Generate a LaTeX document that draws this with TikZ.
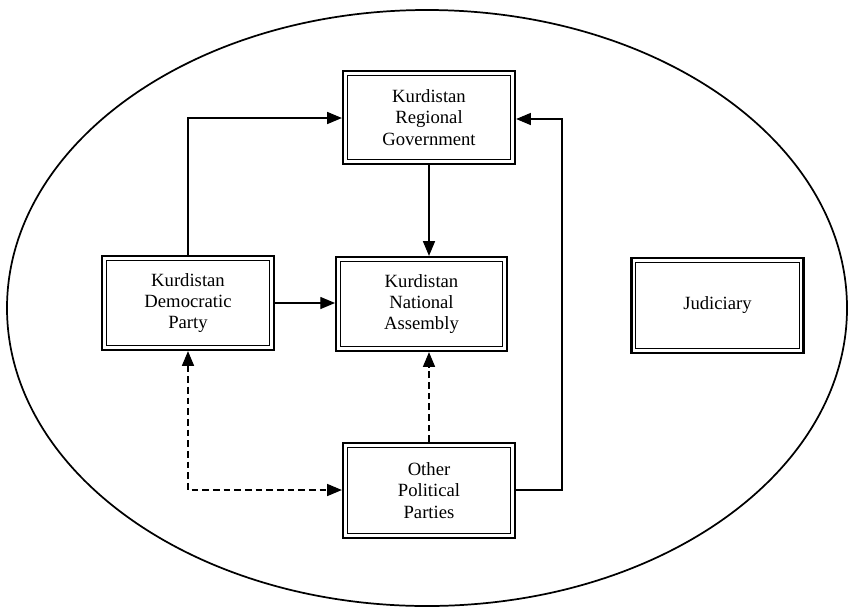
\documentclass[tikz,border=0pt]{standalone}
\usepackage{fontspec}
\setmainfont{Liberation Serif}
\usetikzlibrary{arrows.meta}
\begin{document}
\begin{tikzpicture}[x=0.75pt,y=-0.75pt,
  dbox/.style={draw, line width=1.7pt, inner sep=0pt, align=center,
    font=\fontsize{14}{16}\selectfont,
    path picture={\draw[line width=0.75pt]
      ([shift={(3.2pt,3.2pt)}]path picture bounding box.south west) rectangle
      ([shift={(-3.2pt,-3.2pt)}]path picture bounding box.north east);}},
  conn/.style={line width=0.9pt, -{Triangle[length=11pt,width=9pt]}},
  dconn/.style={conn, dash pattern=on 5pt off 3pt}]
\useasboundingbox (0,0) rectangle (848,615);
\draw[line width=1.3pt] (427,308) ellipse [x radius=420, y radius=298];
\node[dbox, minimum width=129pt, minimum height=70pt] (krg) at (429,117.5) {Kurdistan\\Regional\\Government};
\node[dbox, minimum width=129pt, minimum height=70.5pt] (kdp) at (188,303) {Kurdistan\\Democratic\\Party};
\node[dbox, minimum width=128pt, minimum height=70.5pt] (kna) at (421.5,304) {Kurdistan\\National\\Assembly};
\node[dbox, minimum width=129pt, minimum height=71pt] (opp) at (429,490.5) {Other\\Political\\Parties};
\node[dbox, minimum width=129pt, minimum height=71pt] (jud) at (717.5,305.5) {Judiciary};
\coordinate (c1) at (188,118);
\coordinate (c2) at (562,119);
\coordinate (c3) at (562,490);
\coordinate (c4) at (188,490);
\draw[conn] (kdp.north) -- (c1) -- (c1 -| krg.west);
\draw[conn] (krg.south -| 429,0) -- (kna.north -| 429,0);
\draw[conn] (kdp.east |- 0,303) -- (kna.west |- 0,303);
\draw[conn] (opp.east |- c3) -- (c3) -- (c2) -- (c2 -| krg.east);
\draw[dconn] (opp.north -| 429,0) -- (kna.south -| 429,0);
\draw[dconn, {Triangle[length=11pt,width=9pt]}-{Triangle[length=11pt,width=9pt]}] (kdp.south) -- (c4) -- (c4 -| opp.west);
\end{tikzpicture}
\end{document}
